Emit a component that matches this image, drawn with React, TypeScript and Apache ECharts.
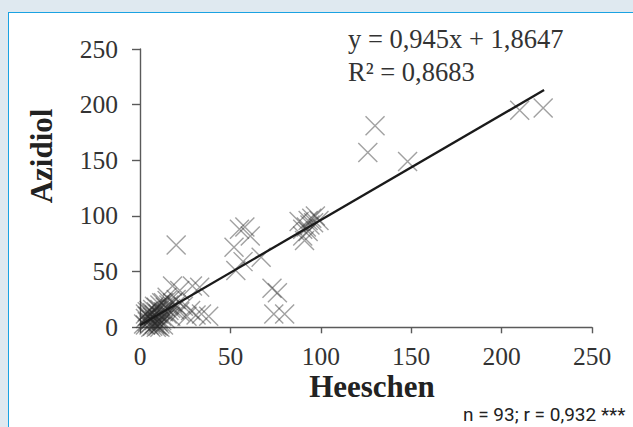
import React, { useEffect, useRef } from "react";
import * as echarts from "echarts";

const heeschen: number[] = [
  210, 223, 130, 126, 148, 20,
  52, 55, 58, 61, 53, 57, 67,
  88, 90, 91, 92, 93, 94, 95, 96, 97, 99, 90, 93,
  73, 76, 74, 80,
  18, 22, 29, 33, 15, 13, 24, 28, 31, 34, 26, 20, 17, 22, 38,
  2, 3, 3, 4, 4, 5, 5, 5, 6, 6, 6, 7, 7, 7, 8, 8, 8, 9, 9, 9, 10, 10, 10, 10,
  11, 11, 11, 12, 12, 12, 13, 13, 14, 14, 15, 15, 16, 16, 17, 18, 19, 20, 6, 9, 11, 3, 4, 7, 8,
];
const azidiol: number[] = [
  195, 197, 181, 157, 149, 74,
  72, 88, 90, 82, 51, 59, 63,
  95, 82, 78, 90, 96, 92, 98, 94, 100, 96, 88, 86,
  35, 31, 12, 12,
  37, 33, 37, 36, 27, 22, 19, 15, 11, 12, 10, 20, 17, 14, 10,
  3, 8, 12, 5, 14, 2, 10, 15, 4, 7, 12, 1, 9, 16, 3, 6, 11, 2, 14, 18, 1, 5, 8, 12,
  3, 16, 20, 6, 10, 22, 2, 14, 8, 18, 12, 24, 15, 20, 10, 22, 16, 25, 0, 0, 0, 2, 10, 13, 19,
];

// Regression: y = 0,945x + 1,8647 ; R² = 0,8683
const slope = 0.945;
const intercept = 1.8647;
const fitRange: number[] = [0, 223.5];

const xTicks: number[] = [0, 50, 100, 150, 200, 250];
const yTicks: number[] = [0, 50, 100, 150, 200, 250];

const equationText = "y = 0,945x + 1,8647";
const r2Text = "R² = 0,8683";
const statsText = "n = 93; r = 0,932 ***";
const xName = "Heeschen";
const yName = "Azidiol";

export default function App() {
  const ref = useRef<HTMLDivElement>(null);

  useEffect(() => {
    if (!ref.current) return;
    const chart = echarts.init(ref.current, undefined, { renderer: "svg" });
    const points = heeschen.map((x, i) => [x, azidiol[i]]);
    const fit = fitRange.map((x) => [x, slope * x + intercept]);
    const serif = "'Liberation Serif', 'Times New Roman', serif";

    chart.setOption({
      animation: false,
      backgroundColor: "transparent",
      grid: { left: 140, right: 41, top: 49, bottom: 99.7, containLabel: false },
      xAxis: {
        type: "value",
        min: xTicks[0],
        max: xTicks[xTicks.length - 1],
        interval: 50,
        axisLine: { show: true, lineStyle: { color: "#5a5a5a", width: 1.4 } },
        axisTick: { show: true, length: 6, lineStyle: { color: "#5a5a5a", width: 1.4 } },
        axisLabel: { color: "#333", fontFamily: serif, fontSize: 25.5, margin: 16 },
        splitLine: { show: false },
      },
      yAxis: {
        type: "value",
        min: yTicks[0],
        max: yTicks[yTicks.length - 1],
        interval: 50,
        axisLine: { show: true, lineStyle: { color: "#5a5a5a", width: 1.4 } },
        axisTick: { show: true, length: 8, lineStyle: { color: "#5a5a5a", width: 1.4 } },
        axisLabel: { color: "#333", fontFamily: serif, fontSize: 25.5, margin: 22 },
        splitLine: { show: false },
      },
      series: [
        {
          type: "scatter",
          data: points,
          symbol: "path://M0,0L10,10M10,0L0,10",
          symbolSize: 19,
          itemStyle: { color: "transparent", borderColor: "rgba(40,40,40,0.55)", borderWidth: 1.4 },
          z: 2,
        },
        {
          type: "line",
          data: fit,
          symbol: "none",
          lineStyle: { color: "#1a1a1a", width: 2.3 },
          z: 3,
        },
      ],
      graphic: [
        {
          type: "text",
          x: 348,
          y: 38.5,
          z: 100,
          style: { text: equationText, font: `26.5px ${serif}`, fill: "#333", align: "left", verticalAlign: "middle" },
        },
        {
          type: "text",
          x: 348,
          y: 72,
          z: 100,
          style: { text: r2Text, font: `26.5px ${serif}`, fill: "#333", align: "left", verticalAlign: "middle" },
        },
        {
          type: "text",
          x: 372,
          y: 386,
          z: 100,
          style: { text: xName, font: `bold 31px ${serif}`, fill: "#222", align: "center", verticalAlign: "middle" },
        },
        {
          type: "text",
          x: 41,
          y: 156,
          rotation: Math.PI / 2,
          z: 100,
          style: { text: yName, font: `bold 31px ${serif}`, fill: "#222", align: "center", verticalAlign: "middle" },
        },
        {
          type: "text",
          x: 463,
          y: 414,
          z: 100,
          style: { text: statsText, font: "19px Roboto, 'Noto Sans', sans-serif", fill: "#222", align: "left", verticalAlign: "middle" },
        },
      ],
    });
    return () => chart.dispose();
  }, []);

  return (
    <div style={{ position: "absolute", left: 0, top: 0, width: 633, height: 427, background: "#dfe9f0", overflow: "hidden" }}>
      <div
        style={{
          position: "absolute",
          left: 8,
          top: 12,
          width: 640,
          height: 430,
          background: "#ffffff",
          borderLeft: "1.6px solid #1aa2e2",
          borderTop: "1.6px solid #1aa2e2",
          boxSizing: "border-box",
        }}
      />
      <div ref={ref} style={{ position: "absolute", left: 0, top: 0, width: 633, height: 427 }} />
    </div>
  );
}
